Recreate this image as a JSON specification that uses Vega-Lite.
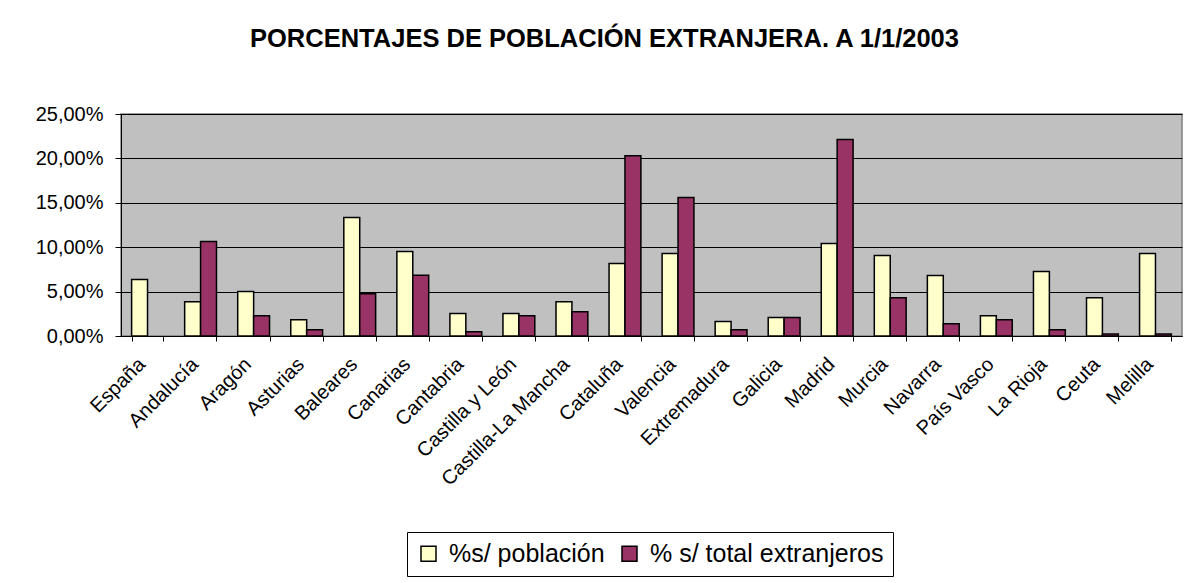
{
  "$schema": "https://vega.github.io/schema/vega-lite/v6.json",
  "width": 1061,
  "height": 222,
  "autosize": "none",
  "padding": {"left": 121, "top": 114, "right": 13, "bottom": 247},
  "background": "white",
  "title": {
    "text": "PORCENTAJES DE POBLACIÓN EXTRANJERA. A 1/1/2003",
    "anchor": "middle",
    "dx": -47,
    "offset": 52,
    "fontSize": 25.5,
    "fontWeight": "bold",
    "font": "Liberation Sans",
    "color": "black"
  },
  "data": {
    "values": [
      {"region": "España", "serie": "%s/ población", "valor": 0.0635},
      {"region": "Andalucía", "serie": "%s/ población", "valor": 0.0387},
      {"region": "Andalucía", "serie": "% s/ total extranjeros", "valor": 0.1064},
      {"region": "Aragón", "serie": "%s/ población", "valor": 0.05},
      {"region": "Aragón", "serie": "% s/ total extranjeros", "valor": 0.0229},
      {"region": "Asturias", "serie": "%s/ población", "valor": 0.0184},
      {"region": "Asturias", "serie": "% s/ total extranjeros", "valor": 0.0071},
      {"region": "Baleares", "serie": "%s/ población", "valor": 0.1335},
      {"region": "Baleares", "serie": "% s/ total extranjeros", "valor": 0.0477},
      {"region": "Canarias", "serie": "%s/ población", "valor": 0.0951},
      {"region": "Canarias", "serie": "% s/ total extranjeros", "valor": 0.0684},
      {"region": "Cantabria", "serie": "%s/ población", "valor": 0.0252},
      {"region": "Cantabria", "serie": "% s/ total extranjeros", "valor": 0.0049},
      {"region": "Castilla y León", "serie": "%s/ población", "valor": 0.0252},
      {"region": "Castilla y León", "serie": "% s/ total extranjeros", "valor": 0.0229},
      {"region": "Castilla-La Mancha", "serie": "%s/ población", "valor": 0.0387},
      {"region": "Castilla-La Mancha", "serie": "% s/ total extranjeros", "valor": 0.0274},
      {"region": "Cataluña", "serie": "%s/ población", "valor": 0.0816},
      {"region": "Cataluña", "serie": "% s/ total extranjeros", "valor": 0.203},
      {"region": "Valencia", "serie": "%s/ población", "valor": 0.0929},
      {"region": "Valencia", "serie": "% s/ total extranjeros", "valor": 0.156},
      {"region": "Extremadura", "serie": "%s/ población", "valor": 0.0162},
      {"region": "Extremadura", "serie": "% s/ total extranjeros", "valor": 0.0071},
      {"region": "Galicia", "serie": "%s/ población", "valor": 0.0207},
      {"region": "Galicia", "serie": "% s/ total extranjeros", "valor": 0.0207},
      {"region": "Madrid", "serie": "%s/ población", "valor": 0.1041},
      {"region": "Madrid", "serie": "% s/ total extranjeros", "valor": 0.2214},
      {"region": "Murcia", "serie": "%s/ población", "valor": 0.0906},
      {"region": "Murcia", "serie": "% s/ total extranjeros", "valor": 0.0432},
      {"region": "Navarra", "serie": "%s/ población", "valor": 0.068},
      {"region": "Navarra", "serie": "% s/ total extranjeros", "valor": 0.0139},
      {"region": "País Vasco", "serie": "%s/ población", "valor": 0.0229},
      {"region": "País Vasco", "serie": "% s/ total extranjeros", "valor": 0.0184},
      {"region": "La Rioja", "serie": "%s/ población", "valor": 0.0726},
      {"region": "La Rioja", "serie": "% s/ total extranjeros", "valor": 0.0071},
      {"region": "Ceuta", "serie": "%s/ población", "valor": 0.0432},
      {"region": "Ceuta", "serie": "% s/ total extranjeros", "valor": 0.0022},
      {"region": "Melilla", "serie": "%s/ población", "valor": 0.0929},
      {"region": "Melilla", "serie": "% s/ total extranjeros", "valor": 0.0022}
    ]
  },
  "mark": {"type": "bar", "stroke": "black", "strokeWidth": 1.5},
  "encoding": {
    "x": {
      "field": "region",
      "type": "nominal",
      "sort": null,
      "scale": {"paddingInner": 0.4, "paddingOuter": 0.2},
      "axis": {
        "title": null,
        "labelAngle": -45,
        "labelAlign": "right",
        "labelBaseline": "middle",
        "labelFontSize": 20,
        "labelColor": "black",
        "labelPadding": 20,
        "labelOffset": -6,
        "labelLimit": 400,
        "tickBand": "extent",
        "tickColor": "black",
        "tickSize": 5,
        "domainColor": "black",
        "domainWidth": 1,
        "grid": false
      }
    },
    "xOffset": {
      "field": "serie",
      "type": "nominal",
      "sort": ["%s/ población", "% s/ total extranjeros"],
      "scale": {"paddingInner": 0, "paddingOuter": 0}
    },
    "y": {
      "field": "valor",
      "type": "quantitative",
      "scale": {"domain": [0, 0.25], "nice": false},
      "axis": {
        "title": null,
        "format": ".2%",
        "values": [0, 0.05, 0.1, 0.15, 0.2, 0.25],
        "labelFontSize": 20,
        "labelColor": "black",
        "labelPadding": 12,
        "tickColor": "black",
        "tickSize": 6,
        "domainColor": "black",
        "grid": true,
        "gridColor": "black",
        "gridWidth": 1,
        "gridOpacity": 1
      }
    },
    "color": {
      "field": "serie",
      "type": "nominal",
      "sort": ["%s/ población", "% s/ total extranjeros"],
      "scale": {"domain": ["%s/ población", "% s/ total extranjeros"], "range": ["#FFFFCC", "#993366"]},
      "legend": {
        "title": null,
        "orient": "none",
        "legendX": 286,
        "legendY": 418,
        "direction": "horizontal",
        "symbolType": "square",
        "symbolSize": 225,
        "symbolStrokeColor": "black",
        "symbolStrokeWidth": 1.5,
        "symbolOpacity": 1,
        "labelFontSize": 25,
        "labelColor": "black",
        "labelOffset": 8,
        "labelLimit": 400,
        "columnPadding": 12,
        "padding": 9,
        "strokeColor": "black",
        "fillColor": "white"
      }
    }
  },
  "config": {
    "font": "Liberation Sans",
    "locale": {"number": {"decimal": ",", "thousands": ".", "grouping": [3], "currency": ["", " €"]}},
    "view": {"fill": "#C0C0C0", "stroke": "#808080", "strokeWidth": 1.5}
  }
}
